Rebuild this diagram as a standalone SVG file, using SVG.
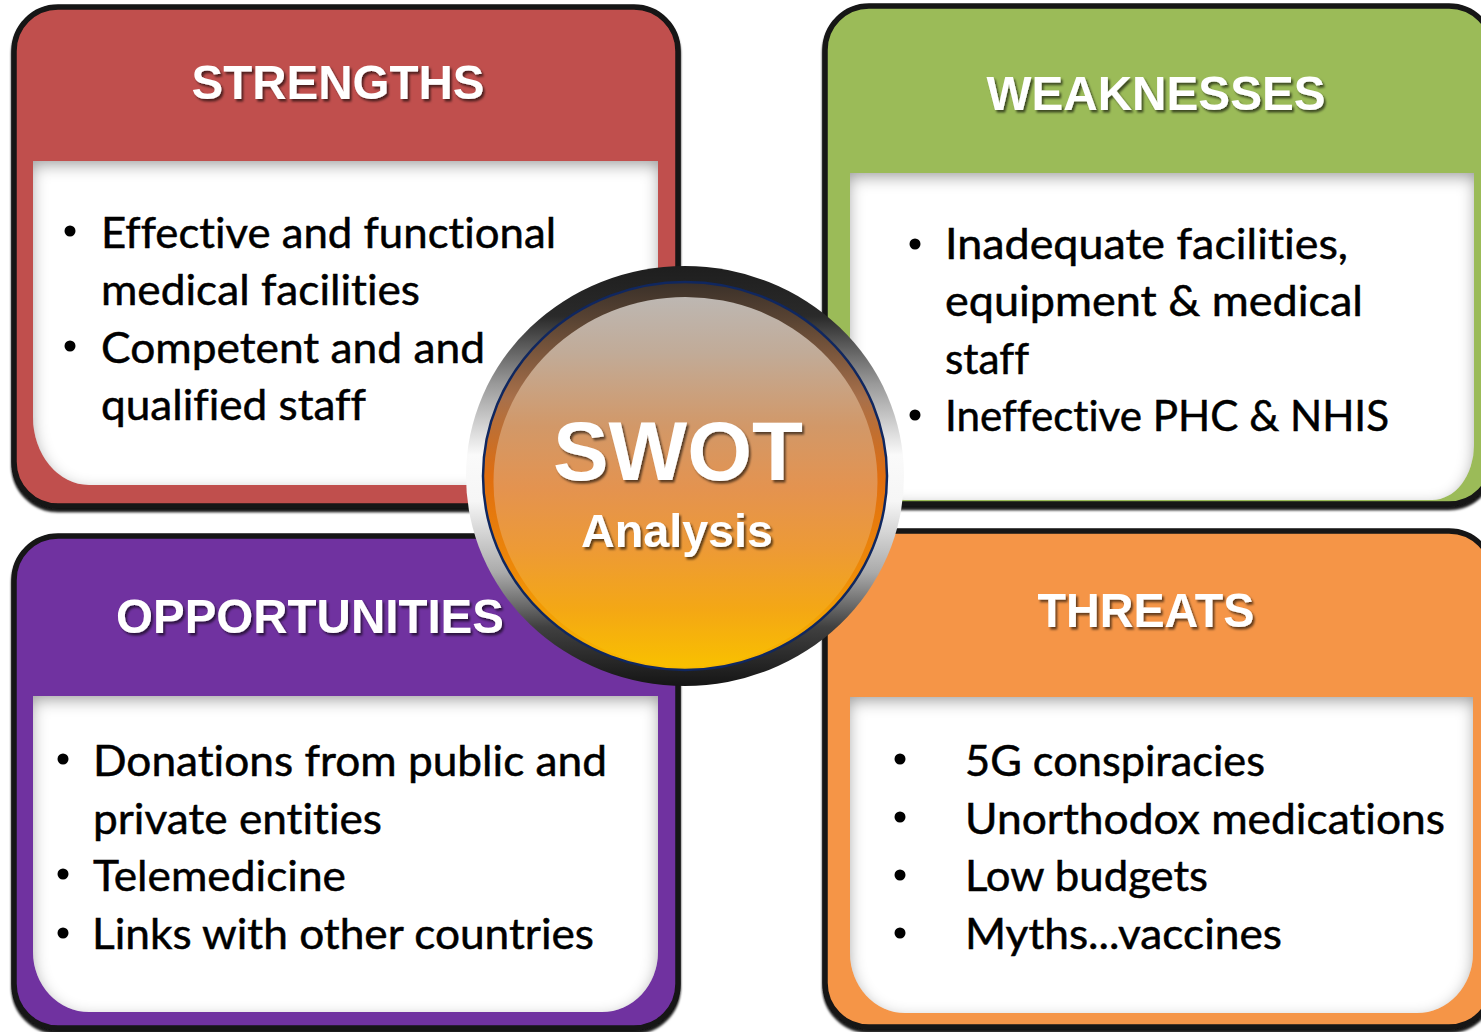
<svg xmlns="http://www.w3.org/2000/svg" width="1481" height="1032" viewBox="0 0 1481 1032">
<defs>
<style>
.frame{stroke:#141414;stroke-width:5.5;filter:url(#fs)}
.panel{fill:#fff;filter:url(#inset)}
.title{font-family:"Liberation Sans",Arial,sans-serif;font-weight:bold;font-size:48px;fill:#fff;text-anchor:middle;filter:url(#ts)}
.body{font-family:Lato,"Open Sans",sans-serif;font-size:42px;fill:#000;stroke:#000;stroke-width:0.5;font-variant-ligatures:none}
.bullet{fill:#000}
</style>
<filter id="fs" x="-5%" y="-5%" width="110%" height="112%">
<feDropShadow dx="0" dy="3.5" stdDeviation="0.8" flood-color="#000" flood-opacity="0.9"/>
</filter>
<filter id="inset" x="-10%" y="-20%" width="120%" height="140%">
<feFlood flood-color="#000" flood-opacity="0.66" result="f"/>
<feComposite in="f" in2="SourceAlpha" operator="out" result="o"/>
<feGaussianBlur in="o" stdDeviation="7.5" result="b"/>
<feOffset in="b" dx="0" dy="5" result="ob"/>
<feComposite in="ob" in2="SourceAlpha" operator="in" result="s"/>
<feMerge><feMergeNode in="SourceGraphic"/><feMergeNode in="s"/></feMerge>
</filter>
<filter id="ts" x="-10%" y="-30%" width="120%" height="160%">
<feDropShadow dx="2" dy="2.5" stdDeviation="1.3" flood-color="#000" flood-opacity="0.6"/>
</filter>
<linearGradient id="ring" x1="0" y1="0" x2="0" y2="1">
<stop offset="0" stop-color="#1e1e1e"/>
<stop offset="0.12" stop-color="#2a2a2a"/>
<stop offset="0.28" stop-color="#999"/>
<stop offset="0.45" stop-color="#fafafa"/>
<stop offset="0.56" stop-color="#f6f6f6"/>
<stop offset="0.73" stop-color="#aaa"/>
<stop offset="0.86" stop-color="#404040"/>
<stop offset="1" stop-color="#151515"/>
</linearGradient>
<linearGradient id="rim" x1="0" y1="0" x2="0" y2="1">
<stop offset="0" stop-color="#3a3029"/>
<stop offset="0.1" stop-color="#5a4433"/>
<stop offset="0.3" stop-color="#a8704a"/>
<stop offset="0.5" stop-color="#e06e10"/>
<stop offset="0.75" stop-color="#ee8a08"/>
<stop offset="1" stop-color="#f8bb00"/>
</linearGradient>
<linearGradient id="face" x1="0" y1="0" x2="0" y2="1">
<stop offset="0" stop-color="#bdb7b2"/>
<stop offset="0.15" stop-color="#c1ab98"/>
<stop offset="0.35" stop-color="#d29868"/>
<stop offset="0.52" stop-color="#e4934f"/>
<stop offset="0.68" stop-color="#ed9a36"/>
<stop offset="0.85" stop-color="#f4a814"/>
<stop offset="1" stop-color="#f9c000"/>
</linearGradient>
</defs>

<rect width="1481" height="1032" fill="#fff"/>

<g id="node-strengths">
<rect class="frame" x="14" y="7" width="664" height="499" rx="44" fill="#C0504D"/>
<path class="panel" d="M33,161 H658 V417 A56,68 0 0 1 602,485 H89 A56,68 0 0 1 33,417 Z"/>
<text class="title" x="338" y="99" textLength="293" lengthAdjust="spacingAndGlyphs">STRENGTHS</text>
<circle class="bullet" cx="70" cy="231" r="5.5"/>
<circle class="bullet" cx="70" cy="346" r="5.5"/>
<text class="body" x="101" y="248" textLength="455" lengthAdjust="spacingAndGlyphs">Effective and functional</text>
<text class="body" x="101" y="305" textLength="319" lengthAdjust="spacingAndGlyphs">medical facilities</text>
<text class="body" x="101" y="363" textLength="384" lengthAdjust="spacingAndGlyphs">Competent and and</text>
<text class="body" x="101" y="420" textLength="265" lengthAdjust="spacingAndGlyphs">qualified staff</text>
</g>

<g id="node-weaknesses">
<rect class="frame" x="825" y="6" width="668" height="498" rx="44" fill="#9BBB59"/>
<path class="panel" d="M850,173 H1474 V445 A42,55 0 0 1 1432,500 H905 A55,60 0 0 1 850,440 Z"/>
<text class="title" x="1156" y="110" textLength="339" lengthAdjust="spacingAndGlyphs">WEAKNESSES</text>
<circle class="bullet" cx="915" cy="244" r="5.5"/>
<circle class="bullet" cx="915" cy="415" r="5.5"/>
<text class="body" x="945" y="259" textLength="403" lengthAdjust="spacingAndGlyphs">Inadequate facilities,</text>
<text class="body" x="945" y="316" textLength="418" lengthAdjust="spacingAndGlyphs">equipment &amp; medical</text>
<text class="body" x="945" y="374" textLength="84" lengthAdjust="spacingAndGlyphs">staff</text>
<text class="body" x="945" y="431" textLength="444" lengthAdjust="spacingAndGlyphs">Ineffective PHC &amp; NHIS</text>
</g>

<g id="node-opportunities">
<rect class="frame" x="14" y="536" width="664" height="492" rx="44" fill="#7030A0"/>
<path class="panel" d="M33,696 H658 V952 A56,60 0 0 1 602,1012 H89 A56,60 0 0 1 33,952 Z"/>
<text class="title" x="310" y="633" textLength="388" lengthAdjust="spacingAndGlyphs">OPPORTUNITIES</text>
<circle class="bullet" cx="63" cy="759" r="5.5"/>
<circle class="bullet" cx="63" cy="874" r="5.5"/>
<circle class="bullet" cx="63" cy="933" r="5.5"/>
<text class="body" x="93" y="776" textLength="514" lengthAdjust="spacingAndGlyphs">Donations from public and</text>
<text class="body" x="93" y="834" textLength="289" lengthAdjust="spacingAndGlyphs">private entities</text>
<text class="body" x="93" y="891" textLength="253" lengthAdjust="spacingAndGlyphs">Telemedicine</text>
<text class="body" x="92" y="949" textLength="502" lengthAdjust="spacingAndGlyphs">Links with other countries</text>
</g>

<g id="node-threats">
<rect class="frame" x="825" y="531" width="668" height="496" rx="44" fill="#F59547"/>
<path class="panel" d="M850,697 H1473 V953 A56,60 0 0 1 1417,1013 H905 A55,60 0 0 1 850,953 Z"/>
<text class="title" x="1146" y="627" textLength="217" lengthAdjust="spacingAndGlyphs">THREATS</text>
<circle class="bullet" cx="900" cy="759" r="5.5"/>
<circle class="bullet" cx="900" cy="817" r="5.5"/>
<circle class="bullet" cx="900" cy="875" r="5.5"/>
<circle class="bullet" cx="900" cy="933" r="5.5"/>
<text class="body" x="965" y="776" textLength="300" lengthAdjust="spacingAndGlyphs">5G conspiracies</text>
<text class="body" x="965" y="834" textLength="480" lengthAdjust="spacingAndGlyphs">Unorthodox medications</text>
<text class="body" x="965" y="891" textLength="243" lengthAdjust="spacingAndGlyphs">Low budgets</text>
<text class="body" x="965" y="949" textLength="317" lengthAdjust="spacingAndGlyphs">Myths...vaccines</text>
</g>

<g id="connectors"></g>

<g id="node-swot">
<ellipse cx="685" cy="476" rx="219" ry="210" fill="url(#ring)"/>
<ellipse cx="685" cy="476" rx="202" ry="194" fill="url(#rim)" stroke="#10275f" stroke-width="2.5"/>
<ellipse cx="685.5" cy="482" rx="192" ry="185" fill="url(#face)"/>
<text x="678" y="480" font-family="Liberation Sans, Arial, sans-serif" font-weight="bold" font-size="84" fill="#fff" text-anchor="middle" filter="url(#ts)" textLength="250" lengthAdjust="spacingAndGlyphs">SWOT</text>
<text x="677" y="547" font-family="Liberation Sans, Arial, sans-serif" font-weight="bold" font-size="46" fill="#fff" text-anchor="middle" filter="url(#ts)" textLength="192" lengthAdjust="spacingAndGlyphs">Analysis</text>
</g>
</svg>
